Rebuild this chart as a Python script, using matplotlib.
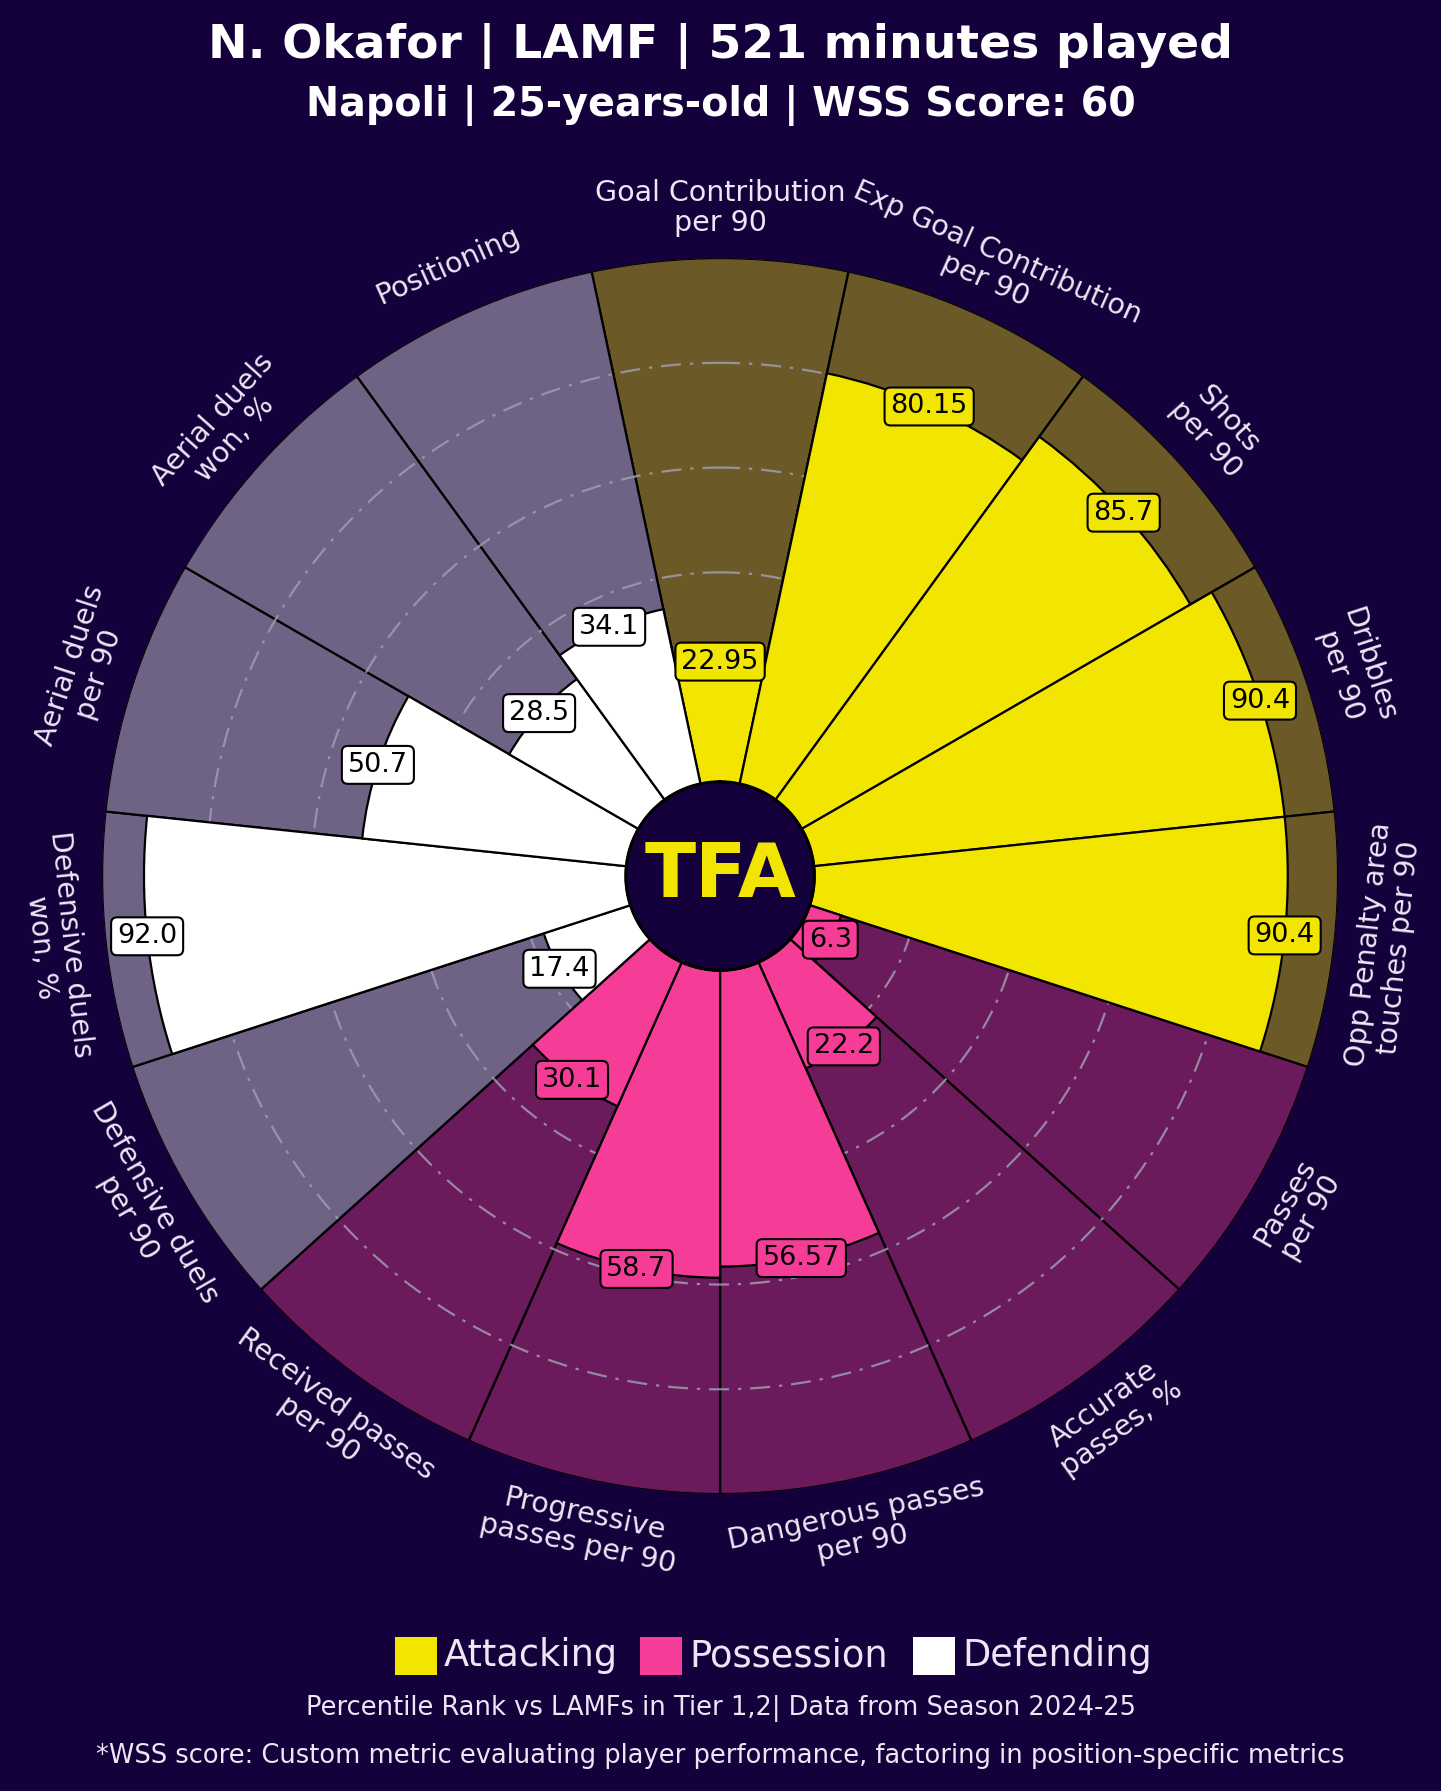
import numpy as np
import matplotlib
matplotlib.use("Agg")
import matplotlib.pyplot as plt
from matplotlib.patches import Rectangle

# ---------------- data ----------------
params = ["Goal Contribution\nper 90", "Exp Goal Contribution\nper 90", "Shots\nper 90",
          "Dribbles\nper 90", "Opp Penalty area\ntouches per 90", "Passes\nper 90",
          "Accurate\npasses, %", "Dangerous passes\nper 90", "Progressive\npasses per 90",
          "Received passes\nper 90", "Defensive duels\nper 90", "Defensive duels\nwon, %",
          "Aerial duels\nper 90", "Aerial duels\nwon, %", "Positioning"]
values = [22.95, 80.15, 85.7, 90.4, 90.4, 6.3, 22.2, 56.57, 58.7, 30.1, 17.4, 92.0, 50.7, 28.5, 34.1]
groups = ["Attacking"] * 5 + ["Possession"] * 5 + ["Defending"] * 5
group_names = ["Attacking", "Possession", "Defending"]
grid_values = [20, 40, 60, 80]

title = "N. Okafor | LAMF | 521 minutes played"
subtitle = "Napoli | 25-years-old | WSS Score: 60"
footer1 = "Percentile Rank vs LAMFs in Tier 1,2| Data from Season 2024-25"
footer2 = "*WSS score: Custom metric evaluating player performance, factoring in position-specific metrics"

# ---------------- style ----------------
BG = "#14003A"
bar_col = {"Attacking": "#F2E600", "Possession": "#F53D98", "Defending": "#FFFFFF"}
slice_col = {"Attacking": "#6B5A27", "Possession": "#6B1A5C", "Defending": "#6E6285"}
TXT = "#ECE6F6"
INNER = 18
MAXV = 100

fig = plt.figure(figsize=(14.41, 17.91), dpi=100, facecolor=BG)
ax = fig.add_axes([0.0708, 0.1658, 0.8578, 0.6901], projection="polar")
ax.set_facecolor("none")
ax.set_theta_zero_location("N")
ax.set_theta_direction(-1)
ax.set_ylim(0, INNER + MAXV)
ax.set_xticks([])
ax.set_yticks([])
ax.grid(False)
ax.spines["polar"].set_visible(False)

n = len(params)
width = 2 * np.pi / n
theta = np.arange(n) * width

# background slices
ax.bar(theta, [MAXV] * n, width=width, bottom=INNER,
       color=[slice_col[g] for g in groups], edgecolor="black", linewidth=1.6, zorder=1)

# grid rings
tt = np.linspace(0, 2 * np.pi, 720)
for g in grid_values:
    ax.plot(tt, np.full_like(tt, INNER + g), color="#A09CAE", lw=1.6,
            ls=(0, (9, 4, 1.5, 4)), alpha=0.85, zorder=2)

# value bars
ax.bar(theta, values, width=width, bottom=INNER,
       color=[bar_col[g] for g in groups], edgecolor="black", linewidth=1.6, zorder=3)

# centre circle
ax.fill_between(tt, 0, INNER, color=BG, zorder=4)
ax.plot(tt, np.full_like(tt, INNER), color="black", lw=2.2, zorder=5)
ax.text(0, 0, "TFA", ha="center", va="center", fontsize=54, fontweight="heavy",
        family="DejaVu Sans", color="#F2E600", zorder=6)

# value labels
for t, v, g in zip(theta, values, groups):
    ax.text(t, INNER + v, str(v), ha="center", va="center", fontsize=19.5,
            color="black", zorder=7,
            bbox=dict(boxstyle="round,pad=0.22", fc=bar_col[g], ec="black", lw=1.5))

# parameter labels
for t, p in zip(theta, params):
    deg = np.degrees(t)
    if deg <= 90 or deg >= 270:
        rot = -deg
    else:
        rot = 180 - deg
    ax.text(t, INNER + MAXV + 9.5, p, ha="center", va="center", rotation=rot,
            rotation_mode="anchor", fontsize=20.5, color=TXT, linespacing=1.1,
            zorder=7)

# titles
fig.text(0.5, 1 - 46 / 1791, title, ha="center", va="center", fontsize=34,
         fontweight="bold", family="DejaVu Sans", color="white")
fig.text(0.5, 1 - 105 / 1791, subtitle, ha="center", va="center", fontsize=28.5,
         fontweight="bold", family="DejaVu Sans", color="white")

# legend
W, H = 1441, 1791
leg_y = 1656
sq_x = [395, 640, 913]
for x0, name in zip(sq_x, group_names):
    fig.patches.append(Rectangle((x0 / W, 1 - (leg_y + 19) / H), 42 / W, 38 / H,
                                 transform=fig.transFigure, facecolor=bar_col[name],
                                 edgecolor="none"))
    fig.text((x0 + 49) / W, 1 - leg_y / H, name, ha="left", va="center",
             fontsize=26.5, color=TXT)

fig.text(0.5, 1 - 1708 / H, footer1, ha="center", va="center", fontsize=18.5, color=TXT)
fig.text(0.5, 1 - 1756 / H, footer2, ha="center", va="center", fontsize=18.5, color=TXT)

fig.savefig("out.png", dpi=100, facecolor=BG)
